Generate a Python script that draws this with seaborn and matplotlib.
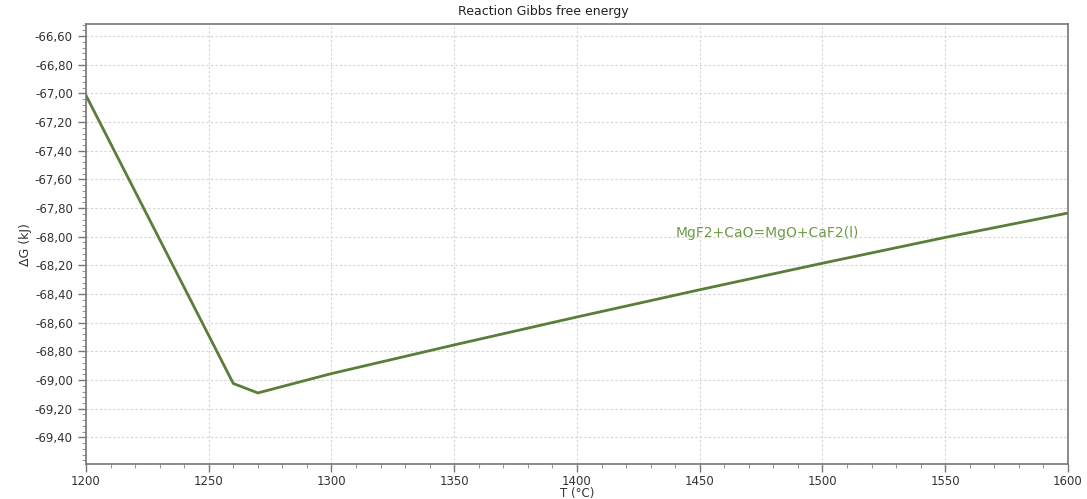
import matplotlib
matplotlib.use("Agg")
import matplotlib.pyplot as plt
import seaborn as sns
import pandas as pd
from matplotlib.ticker import MultipleLocator, FuncFormatter

# Data
temperature_c = [1200, 1260, 1270, 1300, 1350, 1400, 1450, 1500, 1550, 1600]
delta_g_kj = [-67.014, -69.024, -69.09, -68.955, -68.755, -68.56, -68.37, -68.185, -68.005, -67.835]
series_label = "MgF2+CaO=MgO+CaF2(l)"
title = "Reaction Gibbs free energy"
x_label = "T (°C)"
y_label = "ΔG (kJ)"

df = pd.DataFrame({"T": temperature_c, "dG": delta_g_kj})

sns.set_theme(style="white")
plt.rcParams["font.family"] = ["DejaVu Sans"]

fig = plt.figure(figsize=(10.87, 4.99), dpi=100)
ax = fig.add_axes([0.0791, 0.0695, 0.9034, 0.8824])

sns.lineplot(data=df, x="T", y="dG", ax=ax, color="#5b7d3a", linewidth=2.0, sort=False)

ax.set_xlim(1200, 1600)
ax.set_ylim(-69.588, -66.516)

ax.xaxis.set_major_locator(MultipleLocator(50))
ax.xaxis.set_minor_locator(MultipleLocator(10))
ax.yaxis.set_major_locator(MultipleLocator(0.2))
ax.yaxis.set_minor_locator(MultipleLocator(0.04))
ax.yaxis.set_major_formatter(FuncFormatter(lambda v, p: f"{v:.2f}".replace(".", ",").replace("\u2212", "-")))
ax.xaxis.set_major_formatter(FuncFormatter(lambda v, p: f"{v:.0f}"))

ax.grid(True, which="major", color="#d4d4d4", linestyle=(0, (2, 2)), linewidth=0.8)
ax.set_axisbelow(True)

for side in ["left", "bottom", "top", "right"]:
    ax.spines[side].set_visible(True)
    ax.spines[side].set_color("#777777")
    ax.spines[side].set_linewidth(1.2)

ax.tick_params(axis="both", which="major", direction="out", length=6, width=1, color="#777777",
               labelsize=8.5, labelcolor="#333333", bottom=True, left=True)
ax.tick_params(axis="x", which="major", pad=2)
ax.tick_params(axis="both", which="minor", direction="out", length=3, width=0.8, color="#999999",
               bottom=True, left=True)

ax.set_xlabel(x_label, fontsize=8.5, color="#333333", va="center")
ax.xaxis.set_label_coords(0.5, -0.066)
ax.set_ylabel(y_label, fontsize=9, color="#333333", labelpad=2)

fig.text(0.5, 0.976, title, ha="center", va="center", fontsize=9, color="#222222")

ax.text(1440, -67.975, series_label, fontsize=10, color="#6f9a45", ha="left", va="center")

fig.savefig("out.png", dpi=100)
